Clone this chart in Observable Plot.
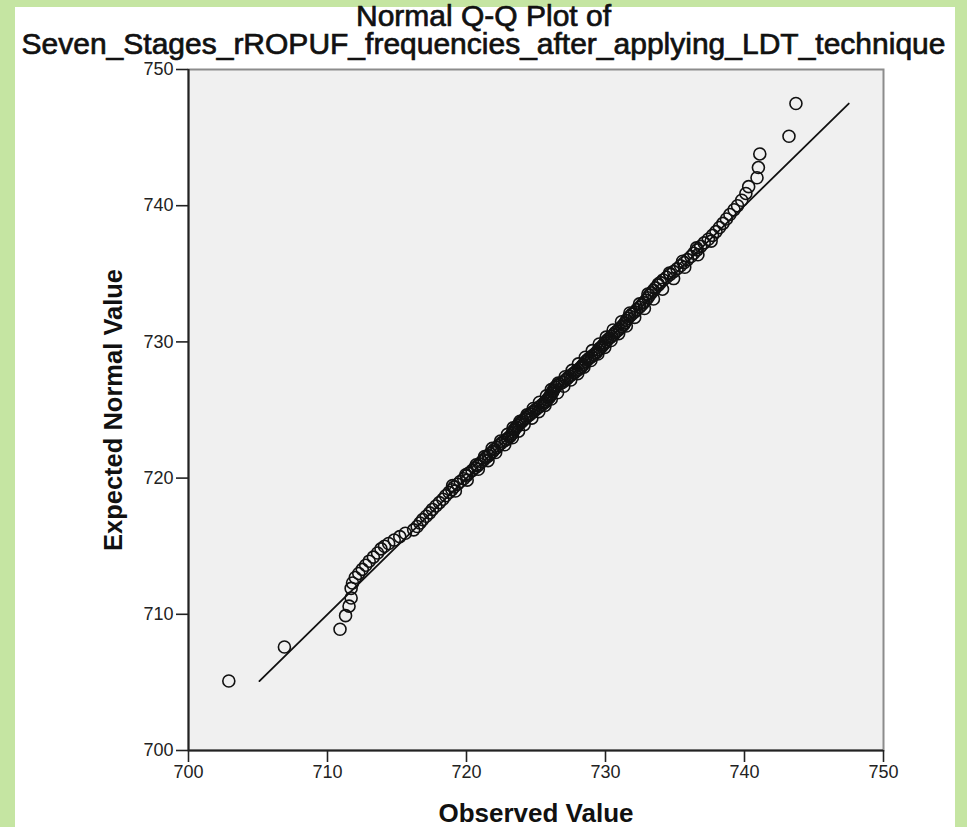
<!DOCTYPE html>
<html>
<head>
<meta charset="utf-8">
<script src="https://cdn.jsdelivr.net/npm/d3@7"></script>
<script src="https://cdn.jsdelivr.net/npm/@observablehq/plot@0.6"></script>
<style>
  html, body { margin: 0; padding: 0; }
  body { width: 967px; height: 827px; background: #c5e5a2; position: relative; overflow: hidden; font-family: "Liberation Sans", Arial, sans-serif; }
  #panel { position: absolute; left: 15px; top: 7px; width: 940px; height: 820px; background: #ffffff; }
  .title { position: absolute; left: 0; width: 967px; text-align: center; font-size: 30px; line-height: 26px; color: #111; white-space: nowrap; z-index: 2; -webkit-text-stroke: 0.7px #111; }
  #chart { position: absolute; left: 0; top: 40px; z-index: 1; }
</style>
</head>
<body>
<div id="panel"></div>
<div class="title" id="t1" style="top:3px">Normal Q-Q Plot of</div>
<div class="title" id="t2" style="top:31px">Seven_Stages_rROPUF_frequencies_after_applying_LDT_technique</div>
<div id="chart"></div>
<script>
const xDomain = [700, 750];
const yDomain = [700, 750];
const xTicks = [700, 710, 720, 730, 740, 750];
const yTicks = [700, 710, 720, 730, 740, 750];
const xLabel = "Observed Value";
const yLabel = "Expected Normal Value";

// main run of points along the band (expected normal value / observed value)
const expectedValues = [
  705.1, 707.6, 708.9, 709.9, 710.6, 711.2, 711.9, 712.3, 712.7, 713.0,
  713.3, 713.6, 713.9, 714.2, 714.5, 714.8, 715.0, 715.2, 715.45, 715.7,
  715.95, 716.2, 716.45, 716.7, 716.95, 717.2, 717.45, 717.7, 717.95, 718.2,
  718.45, 718.7, 718.95, 719.15, 719.35, 719.55, 719.75, 719.95, 720.15, 720.35,
  720.55, 720.75, 720.9, 721.05, 721.2, 721.35, 721.5, 721.65, 721.8, 721.95,
  722.1, 722.25, 722.38, 722.52, 722.65, 722.78, 722.9, 723.02, 723.15, 723.27,
  723.39, 723.51, 723.63, 723.75, 723.87, 723.99, 724.11, 724.23, 724.35, 724.46,
  724.58, 724.7, 724.82, 724.93, 725.05, 725.17, 725.28, 725.4, 725.52, 725.63,
  725.75, 725.87, 725.98, 726.1, 726.21, 726.33, 726.45, 726.56, 726.68, 726.8,
  726.91, 727.03, 727.15, 727.26, 727.38, 727.5, 727.62, 727.73, 727.85, 727.97,
  728.09, 728.21, 728.33, 728.45, 728.57, 728.69, 728.81, 728.93, 729.05, 729.17,
  729.3, 729.42, 729.54, 729.66, 729.79, 729.91, 730.04, 730.16, 730.29, 730.42,
  730.55, 730.68, 730.81, 730.94, 731.1, 731.25, 731.4, 731.56, 731.72, 731.88,
  732.04, 732.2, 732.37, 732.54, 732.71, 732.88, 733.06, 733.24, 733.42, 733.6,
  733.78, 733.97, 734.16, 734.35, 734.55, 734.75, 734.95, 735.16, 735.37, 735.59,
  735.81, 736.04, 736.27, 736.51, 736.76, 737.01, 737.27, 737.54, 737.82, 738.1,
  738.4, 738.7, 739.02, 739.35, 739.7, 740.0, 740.4, 740.9, 741.4, 742.05,
  742.8, 743.8, 745.1, 747.5
];
const observedValues = [
  702.9, 706.9, 710.9, 711.3, 711.55, 711.7, 711.7, 711.8, 712.0, 712.25,
  712.5, 712.75, 713.0, 713.3, 713.6, 713.85, 714.1, 714.4, 714.8, 715.2,
  715.6, 716.2, 716.45, 716.65, 716.85, 717.1, 717.35, 717.55, 717.8, 718.05,
  718.3, 718.5, 718.75, 718.95, 719.1, 719.35, 719.55, 719.8, 720.0, 720.15,
  720.4, 720.6, 720.8, 720.95, 721.1, 721.25, 721.4, 721.6, 721.7, 721.9,
  722.0, 722.2, 722.3, 722.45, 722.6, 722.8, 722.95, 723.1, 723.2, 723.3,
  723.35, 723.4, 723.5, 723.6, 723.7, 723.8, 723.95, 724.05, 724.2, 724.3,
  724.45, 724.6, 724.7, 724.85, 725.0, 725.15, 725.3, 725.45, 725.6, 725.7,
  725.8, 725.9, 726.0, 726.05, 726.1, 726.2, 726.25, 726.3, 726.4, 726.5,
  726.7, 726.9, 727.05, 727.2, 727.3, 727.45, 727.6, 727.75, 727.9, 728.05,
  728.2, 728.3, 728.4, 728.5, 728.6, 728.7, 728.85, 729.0, 729.15, 729.3,
  729.4, 729.5, 729.6, 729.75, 729.85, 729.95, 730.05, 730.15, 730.3, 730.45,
  730.6, 730.7, 730.85, 731.0, 731.15, 731.3, 731.4, 731.5, 731.6, 731.75,
  731.9, 732.1, 732.25, 732.45, 732.6, 732.75, 732.9, 733.05, 733.15, 733.3,
  733.45, 733.6, 733.8, 733.95, 734.15, 734.4, 734.65, 734.9, 735.15, 735.4,
  735.65, 735.9, 736.15, 736.35, 736.6, 736.85, 737.1, 737.4, 737.7, 737.95,
  738.2, 738.45, 738.7, 738.95, 739.25, 739.5, 739.8, 740.1, 740.3, 740.9,
  741.0, 741.1, 743.2, 743.7
];

// extra points filling the width of the dense middle of the band
const bandExpected = [
  719.05, 719.45, 719.85, 720.25, 720.65, 720.98, 721.28, 721.58, 721.88, 722.18,
  722.45, 722.72, 722.96, 723.21, 723.45, 723.69, 723.93, 724.17, 724.4, 724.64,
  724.88, 725.11, 725.34, 725.57, 725.81, 726.04, 726.27, 726.5, 726.74, 726.97,
  727.2, 727.44, 727.67, 727.91, 728.15, 728.39, 728.63, 728.87, 729.11, 729.36,
  729.6, 729.85, 730.1, 730.35, 730.61, 730.87, 731.17, 731.48, 731.8, 732.12,
  732.45, 732.79, 733.15, 733.51, 733.87, 734.25, 734.65, 735.05, 735.48, 735.92,
  736.4, 736.9, 737.4
];
const bandObserved = [
  719.2, 719.0, 720.05, 719.95, 720.85, 720.7, 721.55, 721.3, 722.1, 721.85,
  722.75, 722.45, 723.3, 722.95, 723.75, 723.35, 724.15, 723.85, 724.7, 724.35,
  725.2, 724.8, 725.65, 725.25, 726.1, 725.75, 726.55, 726.1, 727.0, 726.6,
  727.5, 727.1, 728.0, 727.6, 728.45, 728.05, 728.95, 728.55, 729.45, 729.05,
  729.95, 729.55, 730.4, 730.05, 730.95, 730.55, 731.5, 731.15, 732.1, 731.75,
  732.8, 732.45, 733.45, 733.05, 734.1, 733.8, 734.9, 734.6, 735.7, 735.55,
  736.65, 736.55, 737.6
];

const points = observedValues.map((v, i) => ({observed: v, expected: expectedValues[i]}))
  .concat(bandObserved.map((v, i) => ({observed: v, expected: bandExpected[i]})));
const lineEnds = d3.extent(expectedValues).map(v => ({observed: v, expected: v}));

const chart = Plot.plot({
  width: 967,
  height: 787,
  marginLeft: 188,
  marginRight: 84,
  marginTop: 29,
  marginBottom: 77,
  style: {fontFamily: "'Liberation Sans', Arial, sans-serif", background: "transparent", overflow: "visible"},
  x: {domain: xDomain, ticks: xTicks, label: null},
  y: {domain: yDomain, ticks: yTicks, label: null},
  marks: [
    Plot.frame({fill: "#f0f0f0", stroke: "#8c8c8c", strokeWidth: 2}),
    Plot.axisX({ticks: xTicks, tickSize: 12, tickPadding: 3, fontSize: 18, color: "#222", strokeWidth: 1.6, label: null}),
    Plot.axisY({ticks: yTicks, tickSize: 12, tickPadding: 3, fontSize: 18, color: "#222", strokeWidth: 1.6, label: null}),
    Plot.ruleY([yDomain[0]], {stroke: "#222", strokeWidth: 2}),
    Plot.ruleX([xDomain[0]], {stroke: "#222", strokeWidth: 2}),
    Plot.line(lineEnds, {x: "observed", y: "expected", stroke: "#111", strokeWidth: 1.8}),
    Plot.dot(points, {x: "observed", y: "expected", r: 6, stroke: "#111", strokeWidth: 1.6, fill: "none"}),
    Plot.text([yLabel], {frameAnchor: "left", text: d => d, rotate: -90, dx: -75, fontSize: 25.5, fontWeight: "bold", fill: "#111", textAnchor: "middle", lineAnchor: "middle"}),
    Plot.text([xLabel], {frameAnchor: "bottom", text: d => d, dy: 63, fontSize: 26, fontWeight: "bold", fill: "#111", textAnchor: "middle", lineAnchor: "middle"})
  ]
});
document.getElementById("chart").appendChild(chart);
</script>
</body>
</html>
